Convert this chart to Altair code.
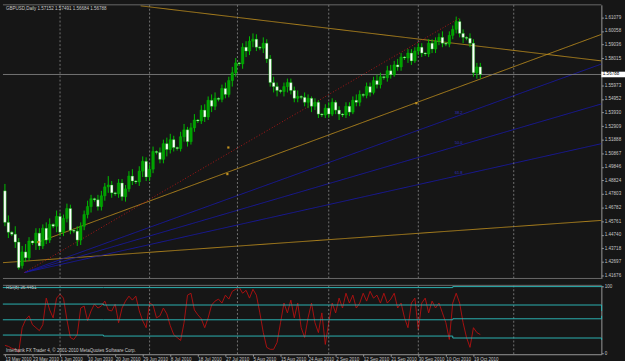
import altair as alt
import pandas as pd

# ---------------- data ----------------
date_labels = ["13 May 2010", "23 May 2010", "1 Jun 2010", "10 Jun 2010", "20 Jun 2010",
               "29 Jun 2010", "8 Jul 2010", "18 Jul 2010", "27 Jul 2010", "5 Aug 2010",
               "15 Aug 2010", "24 Aug 2010", "2 Sep 2010", "12 Sep 2010", "21 Sep 2010",
               "30 Sep 2010", "10 Oct 2010", "19 Oct 2010"]
date_label_bars = [0, 8, 16, 24, 32, 40, 48, 56, 64, 72, 80, 88, 96, 104, 112, 120, 128, 136]

opens = [1.4804, 1.4567, 1.4493, 1.4478, 1.4419, 1.4242, 1.4345, 1.4301, 1.4427, 1.4412,
         1.4486, 1.4390, 1.4523, 1.4434, 1.4552, 1.4538, 1.4612, 1.4493, 1.4597, 1.4671,
         1.4508, 1.4501, 1.4434, 1.4538, 1.4626, 1.4686, 1.4745, 1.4737, 1.4686, 1.4767,
         1.4834, 1.4848, 1.4789, 1.4782, 1.4863, 1.4760, 1.4819, 1.4915, 1.4878, 1.4871,
         1.4952, 1.5026, 1.4908, 1.4967, 1.5100, 1.5093, 1.5041, 1.5159, 1.5115, 1.5189,
         1.5130, 1.5122, 1.5211, 1.5263, 1.5174, 1.5278, 1.5337, 1.5329, 1.5411, 1.5359,
         1.5485, 1.5440, 1.5500, 1.5492, 1.5574, 1.5529, 1.5633, 1.5692, 1.5766, 1.5759,
         1.5884, 1.5855, 1.5929, 1.5944, 1.5884, 1.5877, 1.5914, 1.5796, 1.5618, 1.5588,
         1.5559, 1.5551, 1.5588, 1.5618, 1.5559, 1.5500, 1.5514, 1.5507, 1.5470, 1.5500,
         1.5440, 1.5470, 1.5381, 1.5374, 1.5426, 1.5381, 1.5470, 1.5411, 1.5381, 1.5374,
         1.5440, 1.5396, 1.5485, 1.5470, 1.5529, 1.5522, 1.5588, 1.5544, 1.5633, 1.5603,
         1.5662, 1.5655, 1.5707, 1.5677, 1.5751, 1.5736, 1.5810, 1.5803, 1.5840, 1.5781,
         1.5855, 1.5884, 1.5840, 1.5833, 1.5914, 1.5870, 1.5929, 1.5958, 1.5914, 1.5907,
         1.5973, 1.6018, 1.6077, 1.5988, 1.5958, 1.5951, 1.5914, 1.5692, 1.5736]
highs = [1.4856, 1.4619, 1.4501, 1.4538, 1.4449, 1.4390, 1.4404, 1.4456, 1.4434, 1.4523,
         1.4523, 1.4552, 1.4567, 1.4597, 1.4560, 1.4656, 1.4641, 1.4626, 1.4708, 1.4700,
         1.4515, 1.4538, 1.4567, 1.4656, 1.4730, 1.4774, 1.4752, 1.4774, 1.4804, 1.4863,
         1.4915, 1.4878, 1.4797, 1.4893, 1.4893, 1.4848, 1.4952, 1.4967, 1.4885, 1.4989,
         1.5063, 1.5056, 1.5004, 1.5137, 1.5107, 1.5130, 1.5189, 1.5204, 1.5233, 1.5218,
         1.5137, 1.5248, 1.5307, 1.5285, 1.5315, 1.5381, 1.5344, 1.5448, 1.5455, 1.5514,
         1.5529, 1.5544, 1.5507, 1.5603, 1.5618, 1.5662, 1.5736, 1.5803, 1.5773, 1.5914,
         1.5929, 1.5966, 1.5988, 1.5981, 1.5892, 1.5958, 1.5944, 1.5825, 1.5662, 1.5618,
         1.5566, 1.5618, 1.5648, 1.5648, 1.5588, 1.5559, 1.5522, 1.5544, 1.5529, 1.5514,
         1.5500, 1.5485, 1.5389, 1.5455, 1.5470, 1.5500, 1.5485, 1.5440, 1.5389, 1.5470,
         1.5470, 1.5514, 1.5529, 1.5559, 1.5537, 1.5618, 1.5618, 1.5662, 1.5677, 1.5692,
         1.5670, 1.5744, 1.5751, 1.5781, 1.5796, 1.5840, 1.5818, 1.5870, 1.5870, 1.5884,
         1.5914, 1.5914, 1.5847, 1.5944, 1.5944, 1.5958, 1.5988, 1.6003, 1.5921, 1.6003,
         1.6047, 1.6114, 1.6099, 1.6018, 1.5966, 1.5988, 1.5944, 1.5766, 1.5766]
lows = [1.4538, 1.4449, 1.4464, 1.4375, 1.4212, 1.4219, 1.4271, 1.4279, 1.4397, 1.4360,
        1.4360, 1.4367, 1.4404, 1.4412, 1.4523, 1.4493, 1.4464, 1.4464, 1.4567, 1.4478,
        1.4486, 1.4390, 1.4397, 1.4508, 1.4597, 1.4641, 1.4723, 1.4656, 1.4656, 1.4730,
        1.4789, 1.4752, 1.4767, 1.4752, 1.4730, 1.4723, 1.4797, 1.4848, 1.4856, 1.4841,
        1.4908, 1.4878, 1.4878, 1.4937, 1.5078, 1.5011, 1.5011, 1.5063, 1.5085, 1.5100,
        1.5107, 1.5100, 1.5174, 1.5137, 1.5152, 1.5248, 1.5315, 1.5307, 1.5322, 1.5337,
        1.5396, 1.5411, 1.5477, 1.5470, 1.5500, 1.5507, 1.5588, 1.5662, 1.5744, 1.5722,
        1.5810, 1.5825, 1.5884, 1.5855, 1.5862, 1.5840, 1.5766, 1.5588, 1.5544, 1.5514,
        1.5537, 1.5514, 1.5544, 1.5529, 1.5470, 1.5470, 1.5492, 1.5440, 1.5426, 1.5396,
        1.5411, 1.5352, 1.5359, 1.5352, 1.5352, 1.5366, 1.5381, 1.5337, 1.5359, 1.5352,
        1.5366, 1.5381, 1.5440, 1.5440, 1.5507, 1.5500, 1.5514, 1.5529, 1.5574, 1.5574,
        1.5640, 1.5625, 1.5648, 1.5662, 1.5707, 1.5707, 1.5788, 1.5766, 1.5751, 1.5766,
        1.5825, 1.5810, 1.5818, 1.5810, 1.5840, 1.5840, 1.5899, 1.5884, 1.5892, 1.5884,
        1.5944, 1.5988, 1.5958, 1.5914, 1.5936, 1.5884, 1.5662, 1.5648, 1.5648]
closes = [1.4567, 1.4493, 1.4478, 1.4419, 1.4227, 1.4345, 1.4301, 1.4427, 1.4412, 1.4486,
          1.4390, 1.4523, 1.4434, 1.4552, 1.4538, 1.4612, 1.4493, 1.4597, 1.4671, 1.4508,
          1.4501, 1.4434, 1.4538, 1.4626, 1.4686, 1.4745, 1.4737, 1.4686, 1.4767, 1.4834,
          1.4848, 1.4789, 1.4782, 1.4863, 1.4760, 1.4819, 1.4915, 1.4878, 1.4871, 1.4952,
          1.5026, 1.4908, 1.4967, 1.5100, 1.5093, 1.5041, 1.5159, 1.5115, 1.5189, 1.5130,
          1.5122, 1.5211, 1.5263, 1.5174, 1.5278, 1.5337, 1.5329, 1.5411, 1.5359, 1.5485,
          1.5440, 1.5500, 1.5492, 1.5574, 1.5529, 1.5633, 1.5692, 1.5766, 1.5759, 1.5884,
          1.5855, 1.5929, 1.5944, 1.5884, 1.5877, 1.5914, 1.5796, 1.5618, 1.5588, 1.5559,
          1.5551, 1.5588, 1.5618, 1.5559, 1.5500, 1.5514, 1.5507, 1.5470, 1.5500, 1.5440,
          1.5470, 1.5381, 1.5374, 1.5426, 1.5381, 1.5470, 1.5411, 1.5381, 1.5374, 1.5440,
          1.5396, 1.5485, 1.5470, 1.5529, 1.5522, 1.5588, 1.5544, 1.5633, 1.5603, 1.5662,
          1.5655, 1.5707, 1.5677, 1.5751, 1.5736, 1.5810, 1.5803, 1.5840, 1.5781, 1.5855,
          1.5884, 1.5840, 1.5833, 1.5914, 1.5870, 1.5929, 1.5958, 1.5914, 1.5907, 1.5973,
          1.6018, 1.6077, 1.5988, 1.5958, 1.5951, 1.5914, 1.5692, 1.5736, 1.5679]

rsi_values = [11.8, 10.3, 7.4, 5.9, 1.5, 38.2, 50.0, 55.9, 42.6, 38.2,
              33.8, 42.6, 82.4, 64.7, 52.9, 82.4, 88.2, 82.4, 50.0, 23.5,
              20.6, 27.9, 67.6, 70.6, 48.5, 63.2, 73.5, 67.6, 70.6, 77.9,
              64.7, 63.2, 73.5, 45.6, 67.6, 77.9, 85.3, 79.4, 85.3, 63.2,
              48.5, 38.2, 75.0, 72.1, 52.9, 55.9, 67.6, 58.8, 41.2, 27.9,
              23.5, 19.1, 45.6, 86.8, 89.7, 64.7, 57.4, 51.5, 38.2, 52.9,
              72.1, 77.9, 80.9, 75.0, 86.8, 80.9, 92.6, 95.6, 98.5, 89.7,
              94.1, 82.4, 95.6, 86.8, 60.3, 30.9, 8.8, 5.9, 5.9, 16.2,
              45.6, 75.0, 60.3, 79.4, 52.9, 75.0, 38.2, 23.5, 52.9, 75.0,
              45.6, 30.9, 60.3, 13.2, 45.6, 75.0, 60.3, 82.4, 67.6, 89.7,
              75.0, 86.8, 67.6, 75.0, 89.7, 77.9, 92.6, 82.4, 86.8, 75.0,
              89.7, 75.0, 80.9, 89.7, 67.6, 75.0, 52.9, 38.2, 75.0, 82.4,
              35.3, 75.0, 82.4, 60.3, 77.9, 67.6, 75.0, 60.3, 45.6, 20.6,
              75.0, 89.7, 75.0, 45.6, 23.5, 8.8, 38.2, 30.9, 27.9]

price_ticks = [1.61079, 1.60058, 1.59036, 1.58015, 1.55973, 1.54952, 1.53930, 1.52909,
               1.51888, 1.50867, 1.49846, 1.48824, 1.47803, 1.46782, 1.45761, 1.44740,
               1.43718, 1.42697, 1.41676]
current_price = 1.5679
grid_bars = [16, 42, 67.5, 94, 120, 147.7]

# trend objects: start bar, start price, end bar, end price
line_names = ["gold_desc", "gold_rise", "gold_low", "fan1", "fan2", "fan3", "red_dot"]
line_x1 = [39.4, 9.7, -0.6, 5.7, 5.7, 5.7, 5.7]
line_p1 = [1.6195, 1.4419, 1.4264, 1.4190, 1.4190, 1.4190, 1.4190]
line_x2 = [173.2, 173.2, 173.2, 173.2, 173.2, 173.2, 131.7]
line_p2 = [1.5781, 1.5981, 1.4582, 1.5758, 1.5458, 1.5159, 1.6099]
line_colors = ["#c09020", "#c09020", "#c09020", "#1a1aa8", "#1a1aa8", "#1a1aa8", "#c01818"]

# fibonacci fan level labels (at the second anchor bar)
fan_labels = ["38.2", "50.0", "61.8"]
fan_label_bar = [131.7, 131.7, 131.7]
fan_label_price = [1.5370, 1.5144, 1.4919]

anchor_bars = [9.71, 64.57, 119.43, 64.86]
anchor_prices = [1.4419, 1.4930, 1.5463, 1.5130]
anchor_kind = ["gold", "gold", "gold", "red"]

# RSI level lines (step lines)
level_keys = ["a"] * 4 + ["b"] * 4 + ["c"] * 4 + ["d"] * 4
level_bars = [-0.6, 28.6, 130, 173.2] * 4
level_vals = [98.1, 98.1, 99.6, 101.0,
              73.5, 72.1, 72.1, 63.2,
              50.0, 50.0, 51.5, 55.9,
              27.2, 25.7, 22.8, 19.9]

# ---------------- tables ----------------
n = len(closes)
candles = pd.DataFrame({"i": list(range(n)), "o": opens, "h": highs, "l": lows, "c": closes})
rsi_df = pd.DataFrame({"i": list(range(n)), "v": rsi_values})
lines_df = pd.DataFrame({"name": line_names, "x1": line_x1, "p1": line_p1,
                         "x2": line_x2, "p2": line_p2})
grid_df = pd.DataFrame({"g": grid_bars})
anchor_df = pd.DataFrame({"i": anchor_bars, "p": anchor_prices, "k": anchor_kind})
level_df = pd.DataFrame({"k": level_keys, "i": level_bars, "v": level_vals})
fan_df = pd.DataFrame({"t": fan_labels, "i": fan_label_bar, "p": fan_label_price})

BG = "#161616"
TXT = "#c8c8c8"
AX = "#9a9a9a"
FONT = "Liberation Sans"
W = 608
XDOM = [-0.571, 173.14]
xs = alt.Scale(domain=XDOM, nice=False, zero=False, padding=0)
ys = alt.Scale(domain=[1.41454, 1.62026], nice=False, zero=False, padding=0)
rys = alt.Scale(domain=[-1.47, 101.47], nice=False, zero=False, padding=0)
label_expr = "[" + ",".join("'" + d + "'" for d in date_labels) + "][round(datum.value / 8)]"


def price_axis():
    return alt.Axis(orient="right", values=price_ticks, format=".5f", title=None,
                    labelOverlap=False, grid=False)


def date_axis():
    return alt.Axis(values=date_label_bars, labelExpr=label_expr, title=None,
                    labelAlign="left", labelBaseline="top", labelPadding=0, tickSize=2,
                    labelOverlap=False, labelFlush=False, grid=False)


def rsi_axis():
    return alt.Axis(orient="right", values=[0, 100], title=None, grid=False, labelOverlap=False)


# ---------------- main panel ----------------
trend = alt.Chart(lines_df).mark_rule(strokeWidth=0.9, clip=True).encode(
    x=alt.X("x1:Q", scale=xs, axis=None), x2="x2:Q",
    y=alt.Y("p1:Q", scale=ys, axis=price_axis()), y2="p2:Q",
    color=alt.Color("name:N", scale=alt.Scale(domain=line_names, range=line_colors), legend=None),
    strokeDash=alt.condition("datum.name == 'red_dot'", alt.value([1, 2]), alt.value([1, 0])))

grid_main = alt.Chart(grid_df).mark_rule(color="#8a8a8a", strokeDash=[2, 2], strokeWidth=0.8).encode(
    x=alt.X("g:Q", scale=xs, axis=None))

cur_line = alt.Chart(pd.DataFrame({"p": [current_price]})).mark_rule(color="#8c8c8c", strokeWidth=0.8).encode(
    y=alt.Y("p:Q", scale=ys, axis=price_axis()), x=alt.value(0), x2=alt.value(W))

wick = alt.Chart(candles).mark_rule(color="#00c000", strokeWidth=1).encode(
    x=alt.X("i:Q", scale=xs, axis=None),
    y=alt.Y("l:Q", scale=ys, axis=price_axis()), y2="h:Q")
body = alt.Chart(candles).mark_bar(size=2.6, stroke="#00c000", strokeWidth=0.4).encode(
    x=alt.X("i:Q", scale=xs, axis=None),
    y=alt.Y("o:Q", scale=ys, axis=price_axis()), y2="c:Q",
    fill=alt.condition("datum.c >= datum.o", alt.value("#00a000"), alt.value("#ffffff")))

anchors = alt.Chart(anchor_df).mark_square(size=5, opacity=1).encode(
    x=alt.X("i:Q", scale=xs, axis=None), y=alt.Y("p:Q", scale=ys, axis=price_axis()),
    color=alt.Color("k:N", scale=alt.Scale(domain=["gold", "red"], range=["#f0e060", "#ff3030"]), legend=None))

fan_txt = alt.Chart(fan_df).mark_text(align="center", baseline="bottom", fontSize=4, font=FONT,
                                      color="#3030c0", dy=-1).encode(
    x=alt.X("i:Q", scale=xs, axis=None), y=alt.Y("p:Q", scale=ys, axis=price_axis()), text="t:N")

price_box = alt.Chart(pd.DataFrame({"p": [current_price]})).mark_rect(color="#ffffff", clip=False).encode(
    y=alt.Y("lo:Q", scale=ys, axis=price_axis()), y2="hi:Q", x=alt.value(W), x2=alt.value(W + 24)).transform_calculate(
    lo="datum.p - 0.0021", hi="datum.p + 0.0021")
price_txt = alt.Chart(pd.DataFrame({"p": [current_price]})).mark_text(
    align="left", baseline="middle", fontSize=4.6, font=FONT, color="#000000").encode(
    y=alt.Y("p:Q", scale=ys, axis=price_axis()), x=alt.value(W + 1.5), text=alt.value("1.56788"))

header = alt.Chart(pd.DataFrame({"t": ["GBPUSD,Daily  1.57152 1.57491 1.56684 1.56788"]})).mark_text(
    align="left", baseline="middle", fontSize=4.6, font=FONT, color=TXT).encode(
    x=alt.value(3), y=alt.value(4), text="t:N")

top_border = alt.Chart(pd.DataFrame({"a": [0]})).mark_rule(color="#6a6a6a").encode(
    x=alt.value(0), x2=alt.value(W), y=alt.value(0))
bot_border = alt.Chart(pd.DataFrame({"a": [0]})).mark_rule(color="#6a6a6a").encode(
    x=alt.value(0), x2=alt.value(W), y=alt.value(278))

main = alt.layer(trend, grid_main, cur_line, wick, body, anchors, fan_txt, header, top_border,
                 bot_border, price_box, price_txt).properties(width=W, height=278)

# ---------------- RSI panel ----------------
rsi_line = alt.Chart(rsi_df).mark_line(color="#b81010", strokeWidth=0.9).encode(
    x=alt.X("i:Q", scale=xs, axis=date_axis()),
    y=alt.Y("v:Q", scale=rys, axis=rsi_axis()))

grid_rsi = alt.Chart(grid_df).mark_rule(color="#8a8a8a", strokeDash=[2, 2], strokeWidth=0.8).encode(
    x=alt.X("g:Q", scale=xs, axis=date_axis()))

levels = alt.Chart(level_df).mark_line(color="#2bb3b3", strokeWidth=1, interpolate="step-after").encode(
    x=alt.X("i:Q", scale=xs, axis=date_axis()), y=alt.Y("v:Q", scale=rys, axis=rsi_axis()), detail="k:N")

rsi_txt = alt.Chart(pd.DataFrame({"t": ["RSI(8) 36.4451"]})).mark_text(
    align="left", baseline="middle", fontSize=4.6, font=FONT, color=TXT).encode(
    x=alt.value(3), y=alt.value(3), text="t:N")
copy_txt = alt.Chart(pd.DataFrame({"t": ["Interbank FX Trader 4, \u00a9 2001-2010 MetaQuotes Software Corp."]})).mark_text(
    align="left", baseline="middle", fontSize=4.6, font=FONT, color=TXT).encode(
    x=alt.value(3), y=alt.value(67), text="t:N")
rsi_top = alt.Chart(pd.DataFrame({"a": [0]})).mark_rule(color="#6a6a6a").encode(
    x=alt.value(0), x2=alt.value(W), y=alt.value(0))

rsi = alt.layer(rsi_line, grid_rsi, levels, rsi_txt, copy_txt, rsi_top).properties(width=W, height=70)

chart = alt.vconcat(main, rsi, spacing=3).configure(
    background=BG, padding={"left": 0, "top": 1, "right": 0, "bottom": 0}
).configure_view(stroke=None).configure_axis(
    labelFont=FONT, labelFontSize=4.6, labelColor=TXT, tickColor=AX, tickSize=2,
    domainColor=AX, domainWidth=1, labelPadding=1)

chart.save("out.html", embed_options={"renderer": "svg", "actions": False})
